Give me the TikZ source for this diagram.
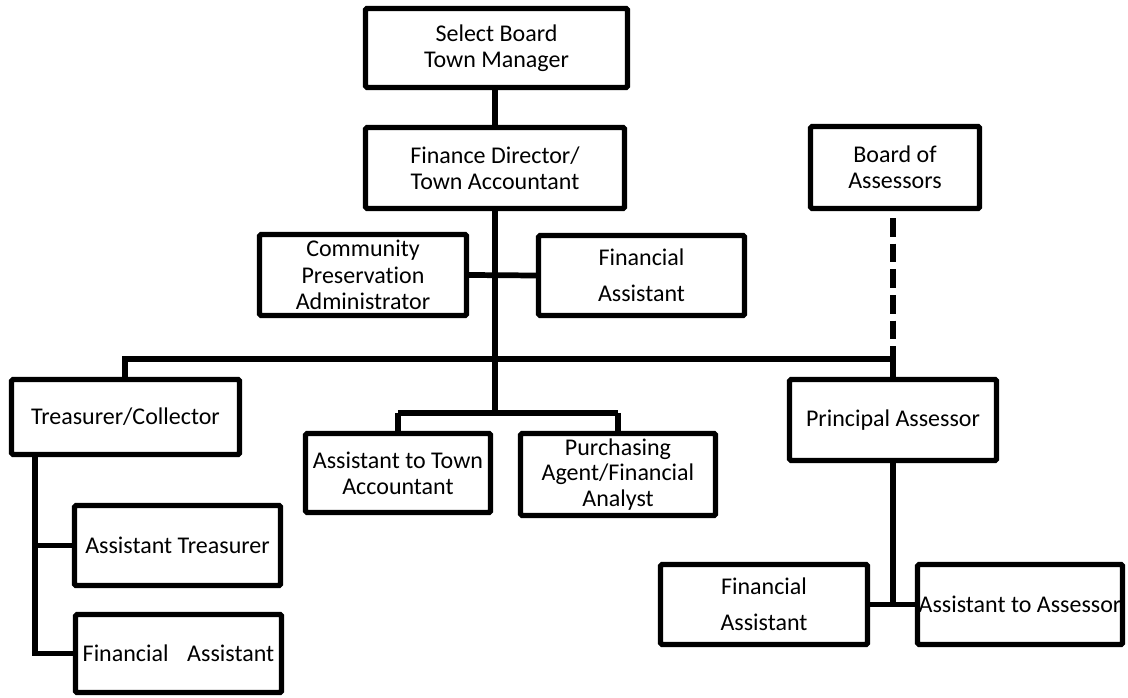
\documentclass[tikz,border=0pt]{standalone}
\usepackage{fontspec}
\setmainfont{Carlito}[Ligatures=NoCommon]
\newcommand\orgbox[6]{\node[box, minimum width={(#4-#2-5)*0.75pt}, minimum height={(#5-#3-5)*0.75pt}] (#1) at ({(#2+#4)/2},{(#3+#5)/2}) {#6};}
\begin{document}
\begin{tikzpicture}[x=0.75pt,y=-0.75pt,
  box/.style={draw, line width=3.8pt, rounded corners=1pt, inner sep=0pt, align=center,
              font=\fontsize{18}{19.5}\selectfont},
  conn/.style={line width=4.3pt},
  dashconn/.style={line width=4.3pt, dash pattern=on 14pt off 5.25pt, dash phase=14pt}]
\useasboundingbox (0,0) rectangle (1128,698);
\orgbox{sb}{363}{6}{630}{90}{Select Board\\Town Manager}
\orgbox{fd}{363}{125}{627}{211}{Finance Director/\\Town Accountant}
\orgbox{cpa}{257}{232}{469}{318}{Community\\[0.6pt]Preservation\\[0.6pt]Administrator}
\orgbox{fa1}{536}{233}{747}{318}{Financial\\[7.5pt]Assistant}
\orgbox{boa}{808}{124}{982}{211}{Board of\\Assessors}
\orgbox{tc}{9}{377}{242}{457}{Treasurer/Collector}
\orgbox{ata}{303}{431}{493}{515}{Assistant to Town\\Accountant}
\orgbox{pur}{518}{431}{718}{518}{Purchasing\\[-0.5pt]Agent/Financial\\[-0.5pt]Analyst}
\orgbox{pa}{787}{377}{999}{463}{Principal Assessor}
\orgbox{at}{72}{503}{283}{588}{Assistant Treasurer}
\orgbox{fa2}{73}{612}{284}{695}{Financial\hspace{14pt}Assistant}
\orgbox{fa3}{658}{562}{870}{647}{Financial\\[7.5pt]Assistant}
\orgbox{aa}{915}{562}{1125}{647}{Assistant to Assessor}
% junction coordinates
\coordinate (trunk) at (495,0);
\coordinate (hl) at (125,359);
\coordinate (hr) at (893,359);
\coordinate (jm) at (495,413);
\coordinate (tx) at (35,0);
\coordinate (px) at (893,604);
% connectors
\draw[conn] (sb.south -| trunk) -- (fd.north -| trunk);
\draw[conn] (fd.south -| trunk) -- (jm);
\draw[conn] (cpa.east) -- (fa1.west);
\draw[conn] (tc.north -| hl) -- (hl) -- (hr) -- (pa.north -| hr);
\draw[dashconn] (boa.south -| hr) -- (hr);
\draw[conn] (jm -| ata.north) -- (jm -| pur.north);
\draw[conn] (jm -| ata.north) -- (ata.north);
\draw[conn] (jm -| pur.north) -- (pur.north);
\draw[conn] (tc.south -| tx) -- (fa2.west -| tx) -- (fa2.west);
\draw[conn] (at.west -| tx) -- (at.west);
\draw[conn] (pa.south -| px) -- (px);
\draw[conn] (fa3.east) -- (aa.west);
\end{tikzpicture}
\end{document}
